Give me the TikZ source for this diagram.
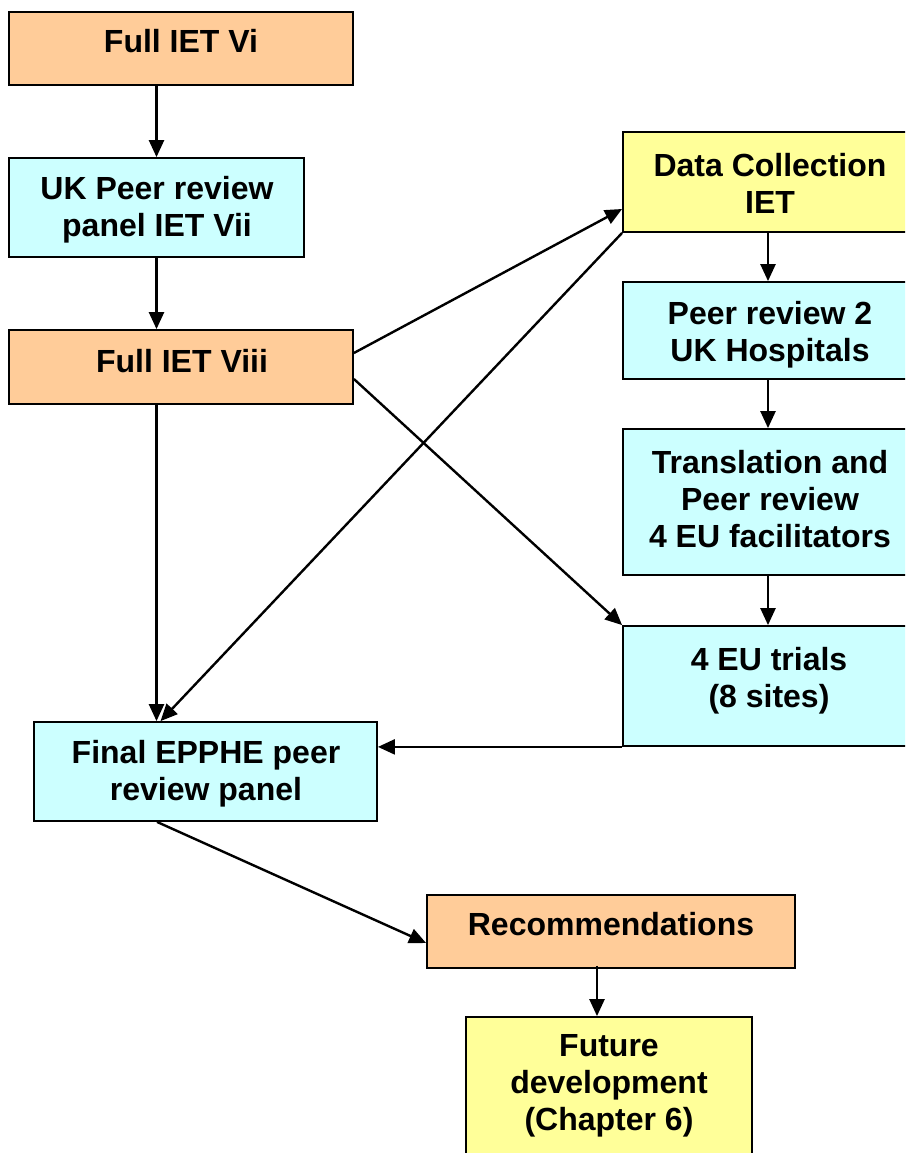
\documentclass[tikz,border=0pt]{standalone}
\usepackage{fontspec}
\setmainfont{Liberation Sans}
\usetikzlibrary{arrows.meta}

\definecolor{peach}{HTML}{FFCC99}
\definecolor{paleaqua}{HTML}{CCFFFF}
\definecolor{paleyellow}{HTML}{FFFF99}

\tikzset{
  box/.style={draw=black, line width=1.8pt, rectangle, inner sep=0pt},
  orangebox/.style={box, fill=peach},
  aquabox/.style={box, fill=paleaqua},
  yellowbox/.style={box, fill=paleyellow},
  txt/.style={anchor=base, inner sep=0pt, font=\fontsize{32}{37}\selectfont\bfseries},
  link/.style={line width=2.4pt, -{Triangle[length=17pt,width=15pt]}}
}

\begin{document}
\begin{tikzpicture}[x=1pt, y=-1pt]
  \useasboundingbox (0,0) rectangle (905,1153);
  \fill[white] (0,0) rectangle (905,1153);
  \clip (0,0) rectangle (905,1153);

  % boxes
  \node[orangebox, minimum width=344pt, minimum height=73pt] (A) at (181,48.5) {};
  \node[aquabox,   minimum width=295pt, minimum height=99pt] (B) at (156.5,207.5) {};
  \node[orangebox, minimum width=344pt, minimum height=74pt] (C) at (181,367) {};
  \node[yellowbox, minimum width=290pt, minimum height=100pt] (D) at (768,182) {};
  \node[aquabox,   minimum width=290pt, minimum height=97pt] (E) at (768,330.5) {};
  \node[aquabox,   minimum width=290pt, minimum height=146pt] (F) at (768,502) {};
  \node[aquabox,   minimum width=290pt, minimum height=120pt] (G) at (768,686) {};
  \node[aquabox,   minimum width=343pt, minimum height=99pt] (H) at (205.5,771.5) {};
  \node[orangebox, minimum width=368pt, minimum height=73pt] (I) at (611,931.5) {};
  \node[yellowbox, minimum width=286pt, minimum height=148pt] (J) at (609,1091) {};

  % labels
  \node[txt] (tA) at (181,53) {Full IET Vi};
  \node[txt] (tB1) at (157,199) {UK Peer review};
  \node[txt] (tB2) at (157,236) {panel IET Vii};
  \node[txt] (tC) at (182,372) {Full IET Viii};
  \node[txt] (tD1) at (770,176) {Data Collection};
  \node[txt] (tD2) at (770,213) {IET};
  \node[txt] (tE1) at (770,324) {Peer review 2};
  \node[txt] (tE2) at (770,361) {UK Hospitals};
  \node[txt] (tF1) at (770,473) {Translation and};
  \node[txt] (tF2) at (770,510) {Peer review};
  \node[txt] (tF3) at (770,547) {4 EU facilitators};
  \node[txt] (tG1) at (769,670) {4 EU trials};
  \node[txt] (tG2) at (769,707) {(8 sites)};
  \node[txt] (tH1) at (206,763) {Final EPPHE peer};
  \node[txt] (tH2) at (206,800) {review panel};
  \node[txt] (tI) at (611,935) {Recommendations};
  \node[txt] (tJ1) at (609,1056) {Future};
  \node[txt] (tJ2) at (609,1093) {development};
  \node[txt] (tJ3) at (609,1130) {(Chapter 6)};

  % connectors
  \draw[link] (A.south -| B.south) -- (B.north);
  \draw[link] (B.south) -- (B.south |- C.north);
  \draw[link] (C.south -| B.south) -- (H.north -| B.south);
  \draw[link] ([yshift=14pt]C.east) -- ([yshift=-27pt]D.west);
  \draw[link] (D.south west) -- ([xshift=-45pt]H.north);
  \draw[link] ([yshift=-12pt]C.east) -- (G.north west);
  \draw[link] (D.south) -- (E.north);
  \draw[link] (E.south) -- (F.north);
  \draw[link] (F.south) -- (G.north);
  \draw[link] (G.south west) -- (G.south west -| H.east);
  \draw[link] ([xshift=-48.5pt]H.south) -- ([yshift=-11.5pt]I.west);
  \coordinate (iout) at ([xshift=-14pt,yshift=3pt]I.south);
  \draw[link] (iout) -- (iout |- J.north);
\end{tikzpicture}
\end{document}
